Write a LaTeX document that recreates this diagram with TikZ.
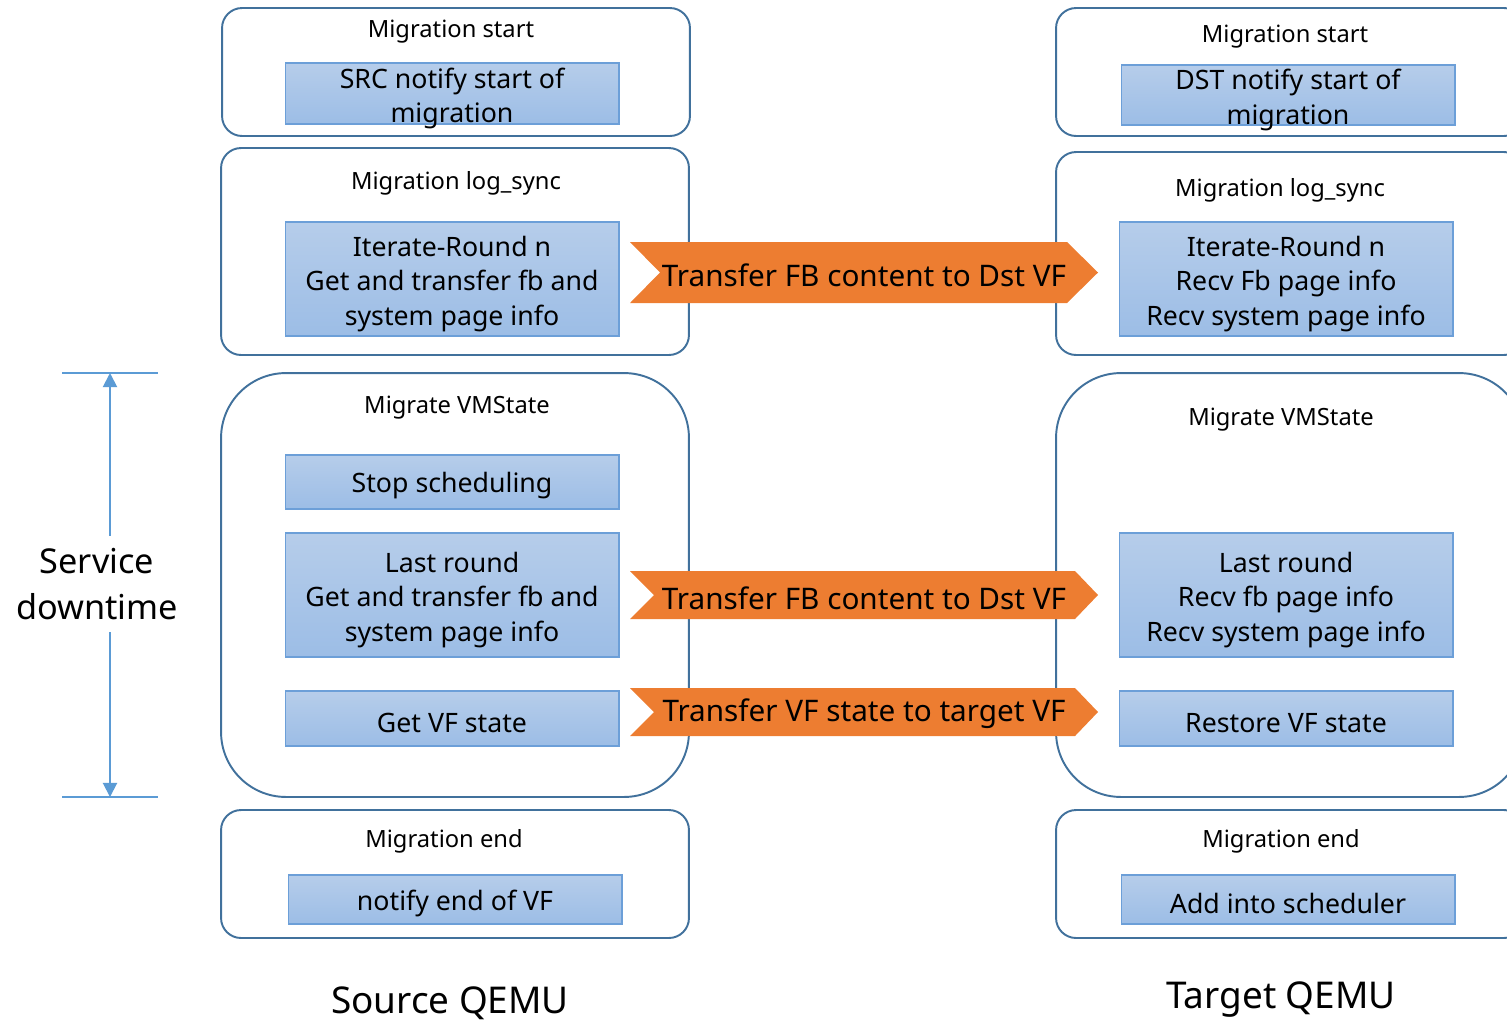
\documentclass[tikz,border=0pt]{standalone}
\usepackage{fontspec}
\setmainfont{Noto Sans}
\usepackage{tikz}
\usetikzlibrary{arrows.meta,positioning,calc}
\definecolor{boxedge}{HTML}{41719C}
\definecolor{cellhi}{HTML}{B6CDEA}
\definecolor{celllo}{HTML}{9CBDE6}
\definecolor{celledge}{HTML}{6C9FD8}
\definecolor{xfer}{HTML}{ED7D31}
\definecolor{dtblue}{HTML}{5B9BD5}
\newcommand{\fstrut}{\rule{0pt}{17.2pt}}

\begin{document}
\begin{tikzpicture}[
  x=0.02cm, y=-0.02cm, >=Triangle,
  stage/.style={draw=boxedge, line width=1.1pt, rounded corners=0.4cm, minimum width=9.36cm, inner sep=0pt},
  bigstage/.style={stage, rounded corners=1.3cm},
  ttl/.style={font=\fontsize{13.5}{16}\selectfont, align=center},
  cell/.style={draw=celledge, line width=0.6pt, top color=cellhi, bottom color=celllo, minimum width=6.68cm, inner sep=0pt, align=center, font=\fontsize{15.2}{19.8}\selectfont, execute at begin node={\rule{0pt}{15.9pt}}},
  tight/.style={inner ysep=-5pt},
  xtxt/.style={font=\fontsize{16.9}{20}\selectfont, inner sep=0pt},
  dtarr/.style={->, draw=dtblue, line width=1.1pt, >={Triangle[length=8pt,width=8pt]}},
  tick/.style={draw=dtblue, line width=0.6pt},
  side/.style={font=\fontsize{19.5}{26}\selectfont},
  qemu/.style={font=\fontsize{21}{25}\selectfont, inner sep=0pt},
]
\clip (0,0) rectangle (1507,1022);

% source side
\node[stage, minimum height=2.56cm] (sstart) at (456,72) {};
\node[stage, minimum height=4.14cm] (slog) at (455,251.5) {};
\node[bigstage, minimum height=8.48cm] (svm) at (455,585) {};
\node[stage, minimum height=2.56cm] (send) at (455,874) {};
\node[ttl] (tsstart) at (451,31.5) {Migration start};
\node[ttl] (tslog) at (456,183.5) {Migration log\_sync};
\node[ttl] (tsvm) at (457,407.5) {Migrate VMState};
\node[ttl] (tsend) at (444,841.5) {Migration end};
\node[cell, tight, minimum height=1.22cm] (s1) at (452,93.5) {\fstrut SRC notify start of\\migration};
\node[cell, minimum height=2.28cm] (s2) at (452,279) {\fstrut Iterate-Round n\\Get and transfer fb and\\system page info};
\node[cell, minimum height=1.08cm] (s3) at (452,482) {Stop scheduling};
\node[cell, minimum height=2.48cm] (s4) at (452,595) {\fstrut Last round\\Get and transfer fb and\\system page info};
\node[cell, minimum height=1.1cm] (s5) at (452,718.5) {Get VF state};
\node[cell, minimum height=0.98cm] (s6) at (455,899.5) {notify end of VF};

% target side
\node[stage, minimum height=2.56cm] (dstart) at (1290,72) {};
\node[stage, minimum height=4.06cm] (dlog) at (1290,253.5) {};
\node[bigstage, minimum height=8.48cm] (dvm) at (1290,585) {};
\node[stage, minimum height=2.56cm] (dend) at (1290,874) {};
\node[ttl] (tdstart) at (1285,36.5) {Migration start};
\node[ttl] (tdlog) at (1280,190.5) {Migration log\_sync};
\node[ttl] (tdvm) at (1281,419.5) {Migrate VMState};
\node[ttl] (tdend) at (1281,841.5) {Migration end};
\node[cell, tight, minimum height=1.2cm] (d1) at (1288,95) {\fstrut DST notify start of\\migration};
\node[cell, minimum height=2.28cm] (d2) at (1286,279) {\fstrut Iterate-Round n\\Recv Fb page info\\Recv system page info};
\node[cell, minimum height=2.48cm] (d4) at (1286,595) {\fstrut Last round\\Recv fb page info\\Recv system page info};
\node[cell, minimum height=1.1cm] (d5) at (1286,718.5) {Restore VF state};
\node[cell, minimum height=0.98cm] (d6) at (1288,899.5) {Add into scheduler};

% transfer chevrons
\foreach \t/\b/\n/\s in {242/303/660/1067, 571/619/654/1075, 688/736/654/1075}
  {\fill[xfer] (630,\t) -- (\s,\t) -- (1098,{(\t+\b)/2}) -- (\s,\b) -- (630,\b) -- (\n,{(\t+\b)/2}) -- cycle;}
\node[xtxt] (x1) at (864,275) {Transfer FB content to Dst VF};
\node[xtxt] (x2) at (864,598) {Transfer FB content to Dst VF};
\node[xtxt] (x3) at (864,714) {Transfer VF state to target VF};

% downtime marker
\coordinate (dtop) at (110,373); \coordinate (dbot) at (110,797);
\coordinate (tl1) at (62,373); \coordinate (tr1) at (158,373);
\coordinate (tl2) at (62,797); \coordinate (tr2) at (158,797);
\draw[tick] (tl1) -- (tr1); \draw[tick] (tl2) -- (tr2);
\node[side, align=center, inner sep=7pt] (dtxt) at (97,584) {Service\\downtime};
\draw[dtarr] (dtxt.north -| dtop) -- (dtop);
\draw[dtarr] (dtxt.south -| dbot) -- (dbot);

\node[qemu] (src) at (450,1003) {Source QEMU};
\node[qemu] (tgt) at (1281,1000) {Target QEMU};

\end{tikzpicture}
\end{document}
